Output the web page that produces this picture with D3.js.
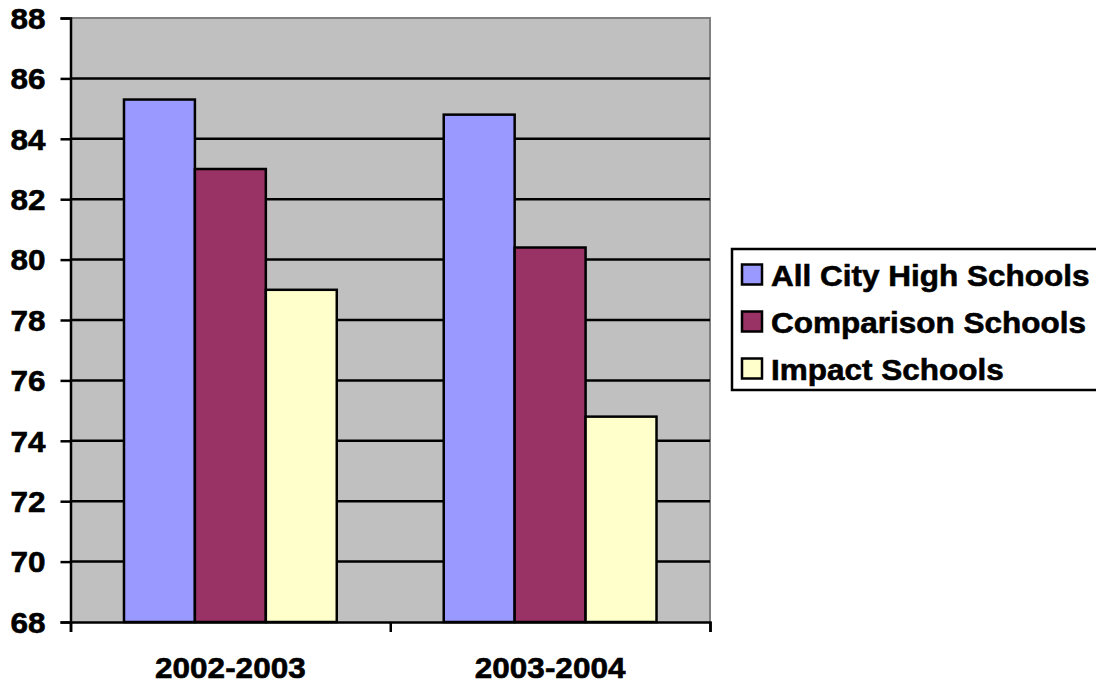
<!DOCTYPE html>
<html><head><meta charset="utf-8">
<script src="https://cdn.jsdelivr.net/npm/d3@7"></script>
<style>body{margin:0;background:#fff;} svg{display:block;} text{font-family:"Liberation Sans",Arial,sans-serif;font-weight:bold;fill:#000;stroke:#000;stroke-width:0.6px;}</style>
</head><body><svg id="c" width="1096" height="685"></svg>
<script>
const categories = ["2002-2003", "2003-2004"];
const seriesNames = ["All City High Schools", "Comparison Schools", "Impact Schools"];
const allCity = [85.3, 84.8];
const comparison = [83.0, 80.4];
const impact = [79.0, 74.8];
const yTicks = [68, 70, 72, 74, 76, 78, 80, 82, 84, 86, 88];
const colors = ["#9999FF", "#993366", "#FFFFCC"];

const seriesValues = [allCity, comparison, impact];
const svg = d3.select("#c");
const L = 70.5, R = 710, T = 18, B = 622;
const SX = 1.05, FS = 30;

const x0 = d3.scaleBand().domain(categories).range([L, R]).padding(0);
const x1 = d3.scaleBand().domain(seriesNames).range([0, x0.bandwidth()]).paddingInner(0).paddingOuter(0.754);
const y = d3.scaleLinear().domain([68, 88]).range([B, T]);

svg.append("rect").attr("x", L).attr("y", T).attr("width", R - L).attr("height", B - T).attr("fill", "#C0C0C0");
svg.append("path").attr("d", `M${L},${T}H${R}V${B}`).attr("fill", "none").attr("stroke", "#808080").attr("stroke-width", 2);

svg.append("g").selectAll("line").data(yTicks.filter(d => d > 68 && d < 88)).join("line")
  .attr("x1", L).attr("x2", R).attr("y1", d => y(d)).attr("y2", d => y(d))
  .attr("stroke", "#000").attr("stroke-width", 2.5);

const data = [];
categories.forEach((c, i) => seriesNames.forEach((s, j) => data.push({c, s, v: seriesValues[j][i], j})));
svg.append("g").selectAll("rect").data(data).join("rect")
  .attr("x", d => x0(d.c) + x1(d.s))
  .attr("width", x1.bandwidth())
  .attr("y", d => y(d.v))
  .attr("height", d => B - y(d.v))
  .attr("fill", d => colors[d.j])
  .attr("stroke", "#000").attr("stroke-width", 2.5);

const yAxis = svg.append("g").attr("transform", `translate(${L},0)`).call(d3.axisLeft(y).tickValues(yTicks).tickSize(10).tickFormat(d3.format("d")));
yAxis.select(".domain").attr("stroke", "#000").attr("stroke-width", 2.5);
yAxis.selectAll(".tick line").attr("stroke", "#000").attr("stroke-width", 2.5);
yAxis.selectAll(".tick text").attr("font-size", FS).attr("font-family", null).attr("fill", null).attr("x", 0).attr("dy", null)
  .attr("dominant-baseline", "central").attr("text-anchor", "end")
  .attr("transform", `translate(-25,0) scale(${SX},1)`);

const xAxisScale = d3.scaleLinear().domain([0, categories.length]).range([L, R]);
const xa = svg.append("g").attr("transform", `translate(0,${B})`).call(d3.axisBottom(xAxisScale).ticks(categories.length).tickSize(10).tickFormat(""));
xa.select(".domain").attr("stroke", "#000").attr("stroke-width", 2.5);
xa.selectAll(".tick line").attr("stroke", "#000").attr("stroke-width", 2.5);
svg.append("g").selectAll("text").data(categories).join("text")
  .attr("transform", d => `translate(${x0(d) + x0.bandwidth() / 2},678) scale(${SX},1)`)
  .attr("text-anchor", "middle").attr("font-size", FS).text(d => d);

const lg = svg.append("g");
lg.append("rect").attr("x", 732).attr("y", 249).attr("width", 380).attr("height", 141)
  .attr("fill", "#fff").attr("stroke", "#000").attr("stroke-width", 2.5);
const rows = lg.selectAll("g.row").data(seriesNames).join("g").attr("class", "row")
  .attr("transform", (d, i) => `translate(0,${274.5 + i * 47})`);
rows.append("rect").attr("x", 742).attr("y", -10).attr("width", 20).attr("height", 20)
  .attr("fill", (d, i) => colors[i]).attr("stroke", "#000").attr("stroke-width", 2.5);
rows.append("text").attr("transform", `translate(771,11) scale(${SX},1)`).attr("font-size", FS).text(d => d);
</script></body></html>
